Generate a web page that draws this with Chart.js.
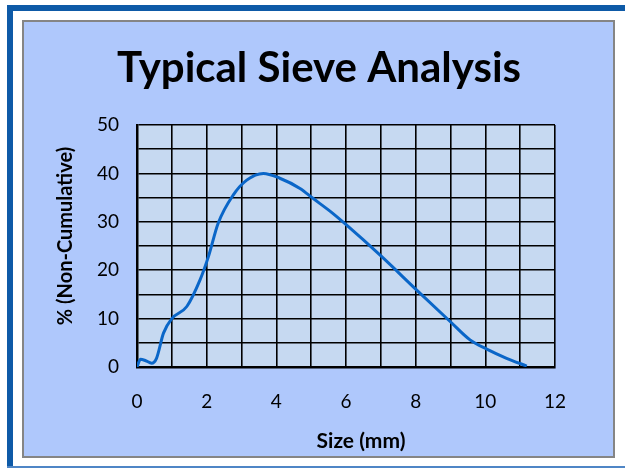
<!DOCTYPE html>
<html>
<head>
<meta charset="utf-8">
<script src="https://cdn.jsdelivr.net/npm/chart.js@4/dist/chart.umd.min.js"></script>
<style>
    html, body { margin: 0; padding: 0; background: #fff; width: 625px; height: 468px; overflow: hidden; }
    #frame { position: absolute; left: 7px; top: 5px; width: 700px; height: 700px;
             border-top: 6px solid #0e5aa7; border-left: 6px solid #0e5aa7; box-sizing: border-box; }
    #bottom-line { position: absolute; left: 7px; top: 466px; width: 618px; height: 2px; background: #4f86c6; }
    #box { position: absolute; left: 22px; top: 20px; width: 593px; height: 438px; box-sizing: border-box;
           border: 2px solid #858585; background: #afc8fc; }
    #wrap { position: absolute; left: 0; top: 0; width: 589px; height: 434px; }
</style>
</head>
<body>
<div id="frame"></div>
<div id="bottom-line"></div>
<div id="box">
    <div id="wrap"><canvas id="chart"></canvas></div>
</div>
<script>
// ── Dati ────────────────────────────────────────────────────
var sizes    = [0, 0.1, 0.25, 0.42, 0.56, 0.76, 1.0, 1.43, 1.81, 2.05, 2.33, 2.76, 3.15, 3.63, 4.1, 4.68, 5.06, 5.54, 6.02, 6.98, 8.03, 8.99, 9.56, 10.04, 10.61, 11.19];
var percents = [0, 1.6, 1.3, 0.8, 1.8, 7, 10, 12.5, 18, 22.8, 29.7, 35.5, 38.6, 40, 39, 36.9, 34.8, 32.2, 29.3, 23.1, 15.9, 9.4, 5.6, 3.7, 1.8, 0.2];
var xTickLabels = ['0', '2', '4', '6', '8', '10', '12'];
var yTickLabels = ['0', '10', '20', '30', '40', '50'];
var chartTitle = 'Typical Sieve Analysis';
var xTitle = 'Size (mm)';
var yTitle = '% (Non-Cumulative)';

var FONT = 'Lato, "Open Sans", sans-serif';

var points = sizes.map(function (s, i) { return { x: s, y: percents[i] }; });

// sfondo area di plot
var plotBg = {
    id: 'plotBg',
    beforeDraw: function (chart) {
        var a = chart.chartArea, ctx = chart.ctx;
        ctx.save();
        ctx.fillStyle = '#c6d9f1';
        ctx.fillRect(a.left, a.top, a.right - a.left, a.bottom - a.top);
        ctx.restore();
    }
};

// titolo e titoli degli assi (posizionati come nell'originale)
var titles = {
    id: 'titles',
    afterDraw: function (chart) {
        var ctx = chart.ctx;
        ctx.save();
        ctx.fillStyle = '#000';
        ctx.textAlign = 'center';
        ctx.textBaseline = 'alphabetic';
        ctx.font = 'bold 42px ' + FONT;
        ctx.fillText(chartTitle, 295, 60);
        ctx.textBaseline = 'middle';
        ctx.font = 'bold 21px ' + FONT;
        ctx.fillText(xTitle, 337, 419);
        ctx.font = 'bold 20px ' + FONT;
        ctx.translate(42, 214);
        ctx.rotate(-Math.PI / 2);
        ctx.fillText(yTitle, 0, 0);
        ctx.restore();
    }
};

new Chart(document.getElementById('chart'), {
    type: 'line',
    data: {
        datasets: [{
            data: points,
            borderColor: '#0a66c8',
            borderWidth: 3,
            pointRadius: 0,
            fill: false,
            cubicInterpolationMode: 'monotone'
        }]
    },
    options: {
        responsive: true,
        maintainAspectRatio: false,
        animation: false,
        layout: { padding: { left: 0, right: 58, top: 103, bottom: 0 } },
        plugins: {
            legend: { display: false },
            tooltip: { enabled: false },
            title: { display: false }
        },
        scales: {
            x: {
                type: 'linear',
                min: 0, max: 12,
                afterFit: function (s) { s.height = 89; },
                ticks: {
                    stepSize: 1,
                    padding: 23,
                    color: '#000',
                    font: { family: FONT, size: 19 },
                    callback: function (v) { return v % 2 === 0 ? xTickLabels[v / 2] : ''; },
                    maxRotation: 0,
                    autoSkip: false
                },
                grid: { color: '#000', lineWidth: 1.6, drawTicks: false },
                border: { display: true, color: '#000', width: 2.5 }
            },
            y: {
                min: 0, max: 50,
                afterFit: function (s) { s.width = 113; },
                ticks: {
                    stepSize: 5,
                    padding: 18,
                    color: '#000',
                    font: { family: FONT, size: 19 },
                    callback: function (v) { return v % 10 === 0 ? yTickLabels[v / 10] : ''; },
                    autoSkip: false
                },
                grid: { color: '#000', lineWidth: 1.6, drawTicks: false },
                border: { display: true, color: '#000', width: 2.5 }
            }
        }
    },
    plugins: [plotBg, titles]
});
</script>
</body>
</html>
